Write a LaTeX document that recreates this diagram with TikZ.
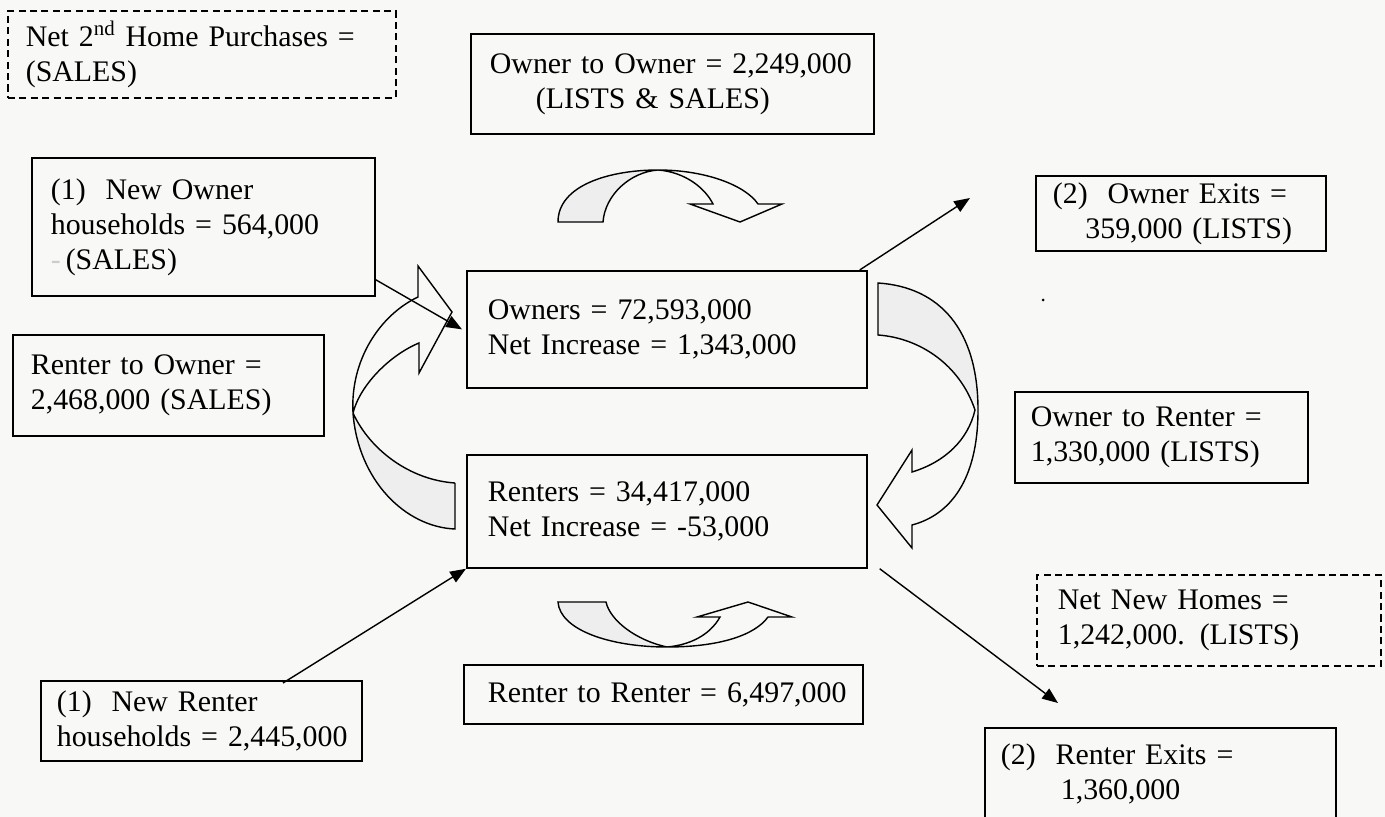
\documentclass[tikz,border=0pt]{standalone}
\usepackage{fontspec}
\setmainfont{Liberation Serif}
\usetikzlibrary{arrows.meta,calc}
\definecolor{paper}{RGB}{248,249,246}
\tikzset{
  flowbox/.style={draw, line width=1pt, align=left, anchor=north west, inner ysep=2pt,
    font=\fontsize{17}{19.9}\selectfont},
  notebox/.style={flowbox, dash pattern=on 4pt off 2.5pt},
  link/.style={line width=0.8pt, -{Triangle[length=9pt,width=7pt]}},
  bigarrow/.style={line width=0.8pt},
  backside/.style={fill=gray!13, draw=none}
}

\begin{document}
\begin{tikzpicture}[x=0.02cm, y=-0.02cm]
  \fill[paper] (0,0) rectangle (1385,817);
  \useasboundingbox (0,0) rectangle (1385,817);

  % stocks and flows
  \node[notebox, inner xsep=0.36cm, text width=7.04cm, minimum height=1.74cm] (second) at (7,10)
    {\mbox{Net 2\textsuperscript{nd} Home Purchases =}\\(SALES)};
  \node[flowbox, inner xsep=0.38cm, text width=7.3cm, minimum height=2cm] (o2o) at (470,33)
    {\mbox{Owner to Owner = 2,249,000}\\\hspace*{0.92cm}\mbox{(LISTS \& SALES)}};
  \node[flowbox, inner xsep=0.38cm, text width=6.1cm, minimum height=2.76cm] (newowner) at (31,157)
    {\mbox{(1)\ \ New Owner}\\\mbox{households = 564,000}\\{\color{gray!40}-}\,(SALES)};
  \node[flowbox, inner xsep=0.34cm, text width=5.12cm, minimum height=1.5cm] (ownerexits) at (1035,175)
    {\mbox{(2)\ \ Owner Exits =}\\\hspace*{0.65cm}\mbox{359,000 (LISTS)}};
  \node[flowbox, inner xsep=0.42cm, text width=7.16cm, minimum height=2.34cm] (owners) at (466,270)
    {\mbox{Owners = 72,593,000}\\\mbox{Net Increase = 1,343,000}};
  \node[flowbox, inner xsep=0.36cm, text width=5.5cm, minimum height=2.02cm] (r2o) at (12,334)
    {\mbox{Renter to Owner =}\\\mbox{2,468,000 (SALES)}};
  \node[flowbox, inner xsep=0.32cm, text width=5.22cm, minimum height=1.82cm] (o2r) at (1014,391)
    {\mbox{Owner to Renter =}\\\mbox{1,330,000 (LISTS)}};
  \node[flowbox, inner xsep=0.42cm, text width=7.16cm, minimum height=2.26cm] (renters) at (466,454)
    {\mbox{Renters = 34,417,000}\\\mbox{Net Increase = -53,000}};
  \node[notebox, inner xsep=0.42cm, text width=6.04cm, minimum height=1.82cm] (netnew) at (1036,574)
    {\mbox{Net New Homes =}\\\mbox{1,242,000. (LISTS)}};
  \node[flowbox, inner xsep=0.48cm, text width=7.02cm, minimum height=1.18cm] (r2r) at (463,664)
    {\mbox{Renter to Renter = 6,497,000}};
  \node[flowbox, inner xsep=0.32cm, text width=5.78cm, minimum height=1.6cm] (newrenter) at (40,680)
    {\mbox{(1)\ \ New Renter}\\\mbox{households = 2,445,000}};
  \node[flowbox, inner xsep=0.32cm, text width=6.38cm, minimum height=1.84cm] (renterexits) at (984,727)
    {\mbox{(2)\ \ Renter Exits =}\\\hspace*{1.2cm}\mbox{1,360,000}};

  % owner to owner
  \fill[backside] (558,222) .. controls (558,185) and (610,170) .. (658,170)
    .. controls (630,172) and (605,195) .. (603,222) -- cycle;
  \draw[bigarrow] (558,222) .. controls (558,185) and (610,170) .. (658,170)
    .. controls (705,170) and (745,185) .. (758,204) -- (782,204) -- (740,222) -- (690,204) -- (713,204)
    .. controls (705,188) and (685,172) .. (658,170)
    .. controls (630,172) and (605,195) .. (603,222) -- cycle;

  % renter to renter
  \fill[backside] (558,602) .. controls (560,630) and (610,647) .. (667,647)
    .. controls (635,640) and (610,620) .. (606,602) -- cycle;
  \draw[bigarrow] (558,602) .. controls (560,630) and (610,647) .. (667,647)
    .. controls (720,647) and (755,635) .. (768,617) -- (792,617) -- (748,602) -- (697,617) -- (720,617)
    .. controls (710,635) and (690,645) .. (667,647)
    .. controls (635,640) and (610,620) .. (606,602) -- cycle;

  % renter to owner
  \fill[backside] (455,483) -- (455,529) .. controls (405,527) and (358,480) .. (353,413)
    .. controls (370,450) and (410,480) .. (455,483) -- cycle;
  \draw[bigarrow] (455,483) -- (455,529) .. controls (405,527) and (358,480) .. (353,413)
    .. controls (350,360) and (380,315) .. (418,297) -- (418,266) -- (452,312) -- (419,373) -- (419,343)
    .. controls (390,355) and (360,385) .. (353,413)
    .. controls (370,450) and (410,480) .. (455,483);

  % owner to renter
  \fill[backside] (878,283) .. controls (940,287) and (978,330) .. (978,410)
    .. controls (960,365) and (920,338) .. (878,335) -- cycle;
  \draw[bigarrow] (878,283) .. controls (940,287) and (978,330) .. (978,410)
    .. controls (978,480) and (950,515) .. (912,525) -- (912,548) -- (877,505) -- (912,450) -- (912,472)
    .. controls (945,462) and (968,440) .. (975,410)
    .. controls (960,365) and (920,338) .. (878,335) -- cycle;

  % entries and exits
  \coordinate (ownerexitsend) at (970,198);
  \coordinate (renterexitsend) at (1058,703);
  \draw[link] ($(newowner.south east)+(0,-17)$) -- ($(owners.west)+(-4,0)$);
  \draw[link] ($(owners.north east)+(-8,0)$) -- (ownerexitsend);
  \draw[link] ($(newrenter.north west)+(243,3)$) -- (renters.south west);
  \draw[link] ($(renters.south east)+(12,0)$) -- (renterexitsend);

  \fill (1043,300) circle (1.5);
\end{tikzpicture}
\end{document}
